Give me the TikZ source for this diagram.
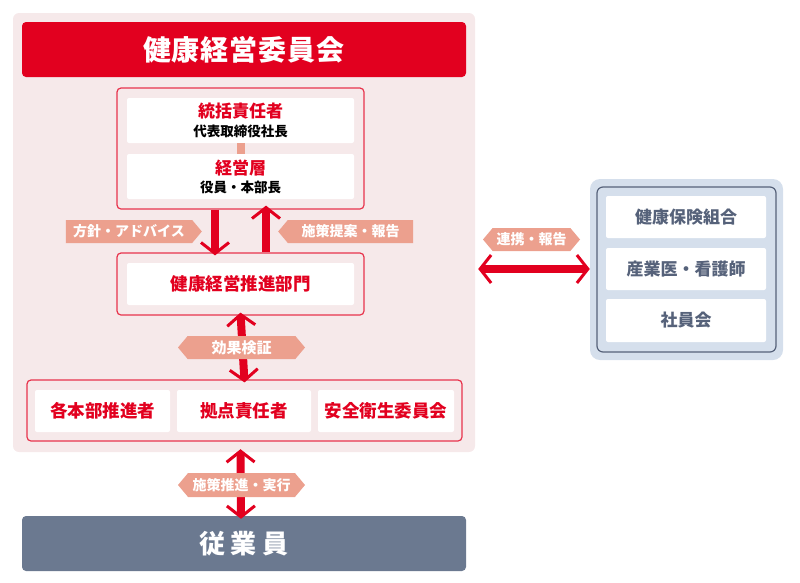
\documentclass[tikz,border=0pt]{standalone}
\usepackage{fontspec}
\setmainfont{Noto Sans CJK JP}
\usetikzlibrary{arrows.meta, positioning, shapes.symbols}
\definecolor{kred}{HTML}{E2001F}
\definecolor{kpink}{HTML}{F6E9EA}
\definecolor{ksalmon}{HTML}{ECA08E}
\definecolor{kslate}{HTML}{6B7990}
\definecolor{kblue}{HTML}{D5DFEC}
\definecolor{kgray}{HTML}{56627A}
\newcommand{\redhead}[1]{{\color{kred}\fontsize{17}{19}\selectfont\bfseries #1}}
\newcommand{\blacksub}[1]{{\color{black}\fontsize{13.5}{15}\selectfont\bfseries #1}}
\tikzset{
panel/.style={fill=kpink, rounded corners=6pt}, % the pink area behind the company side
bar/.style={text=white, font=\fontsize{26}{30}\selectfont\bfseries, rounded corners=4pt, minimum width=444pt, minimum height=55pt}, % the two wide bars
redgroup/.style={draw=kred!80, line width=1.2pt, fill=kpink, rounded corners=4pt}, % red frame round a group
whitebox/.style={fill=white, rounded corners=2pt, inner sep=0pt, align=center}, % white card
redcard/.style={whitebox, text=kred, font=\fontsize{17.5}{19}\selectfont\bfseries}, % card with red text
graycard/.style={whitebox, text=kgray, font=\fontsize{17}{19}\selectfont\bfseries, minimum width=160pt}, % card on the blue side
tag/.style={signal, fill=ksalmon, text=white, font=\fontsize{14}{16}\selectfont\bfseries, inner sep=0pt, minimum height=23pt, signal pointer angle=100}, % salmon arrow label
bigarrow/.style={draw=kred, line width=8pt, -{Straight Barb[length=11pt, width=28pt, line width=3pt]}}, % thick red arrow
twoway/.style={draw=kred, line width=8pt, {Straight Barb[length=11pt, width=28pt, line width=3pt]}-{Straight Barb[length=11pt, width=28pt, line width=3pt]}}, % thick red arrow, both ends
}
\begin{document}
\begin{tikzpicture}[x=1pt, y=-1pt]
  \useasboundingbox (0,0) rectangle (800,582);
  % company side
  \node[panel, minimum width=462pt, minimum height=439pt] (panel) at (244,232.5) {};
  \node[bar, fill=kred, font=\fontsize{28}{30}\selectfont\bfseries] (board) at (244,49.5) {健\kern1pt 康\kern1pt 経\kern1pt 営\kern1pt 委\kern1pt 員\kern1pt 会};
  \node[redgroup, minimum width=247pt, minimum height=121pt] (topgrp) at (240.5,148.5) {};
  \node[whitebox, minimum width=227pt, minimum height=45pt] (chief) at (240.5,120.5) {\redhead{統括責任者}\\[4pt]\blacksub{代表取締役社長}};
  \node[whitebox, minimum width=227pt, minimum height=45pt] (mgmt) at (240.5,176.5) {\redhead{経営層}\\[4pt]\blacksub{役員・本部長}};
  \draw[ksalmon, line width=8pt] (chief) -- (mgmt);
  \node[redgroup, minimum width=247pt, minimum height=62pt] (midgrp) at (240.5,284) {};
  \node[redcard, minimum width=227pt, minimum height=42pt] (dept) at (240.5,284) {健康経営推進部門};
  \node[redgroup, minimum width=435pt, minimum height=61pt] (botgrp) at (244.5,410.5) {};
  \node[redcard, minimum width=135pt, minimum height=42pt] (hq) at (102.5,411) {各本部推進者};
  \node[redcard, minimum width=134pt, minimum height=42pt] (site) at (244,411) {拠点責任者};
  \node[redcard, minimum width=136pt, minimum height=42pt] (safety) at (386,411) {安全衛生委員会};
  \node[bar, fill=kslate] (staff) at (244,543.5) {従\hspace{6pt}業\hspace{6pt}員};
  % partner side
  \node[fill=kblue, rounded corners=10pt, minimum width=193pt, minimum height=181pt] (partner) at (686.5,269.5) {};
  \node[draw=kgray, line width=1.2pt, rounded corners=6pt, minimum width=179pt, minimum height=165pt] (partnerin) at (686.5,269.5) {};
  \node[graycard, minimum height=42pt] (union) at (686,217) {健康保険組合};
  \node[graycard, minimum height=42pt] (doctor) at (686,269) {産業医・看護師};
  \node[graycard, minimum height=43pt] (club) at (686,320.5) {社員会};
  % arrows
  \draw[bigarrow] ([xshift=-25.5pt]topgrp.south) -- ([xshift=-25.5pt, yshift=-3pt]midgrp.north);
  \draw[bigarrow] ([xshift=25.5pt]midgrp.north) -- ([xshift=25.5pt, yshift=4pt]topgrp.south);
  \draw[twoway] ([yshift=3pt]midgrp.south) -- ([yshift=-3pt]botgrp.north);
  \draw[twoway] ([xshift=-3.5pt, yshift=3pt]panel.south) -- ([xshift=-3pt, yshift=-3pt]staff.north);
  \draw[twoway] ([xshift=3pt]panel.east |- doctor) -- (partner.west |- doctor);
  % labels on the arrows
  \node[tag, signal to=east, minimum width=136pt] (policy) at (129,231.5) {方針・アドバイス};
  \node[tag, signal to=west, minimum width=135pt] (report) at (350.5,231.5) {施策提案・報告};
  \node[tag, signal to=east and west, minimum width=127pt, font=\fontsize{15}{17}\selectfont\bfseries] (check) at (241.5,347.5) {効果検証};
  \node[tag, signal to=east and west, minimum width=127pt, minimum height=24pt] (action) at (241.5,485) {施策推進・実行};
  \node[tag, signal to=east and west, minimum width=97pt] (liaison) at (531.5,239.5) {連携・報告};
\end{tikzpicture}
\end{document}
